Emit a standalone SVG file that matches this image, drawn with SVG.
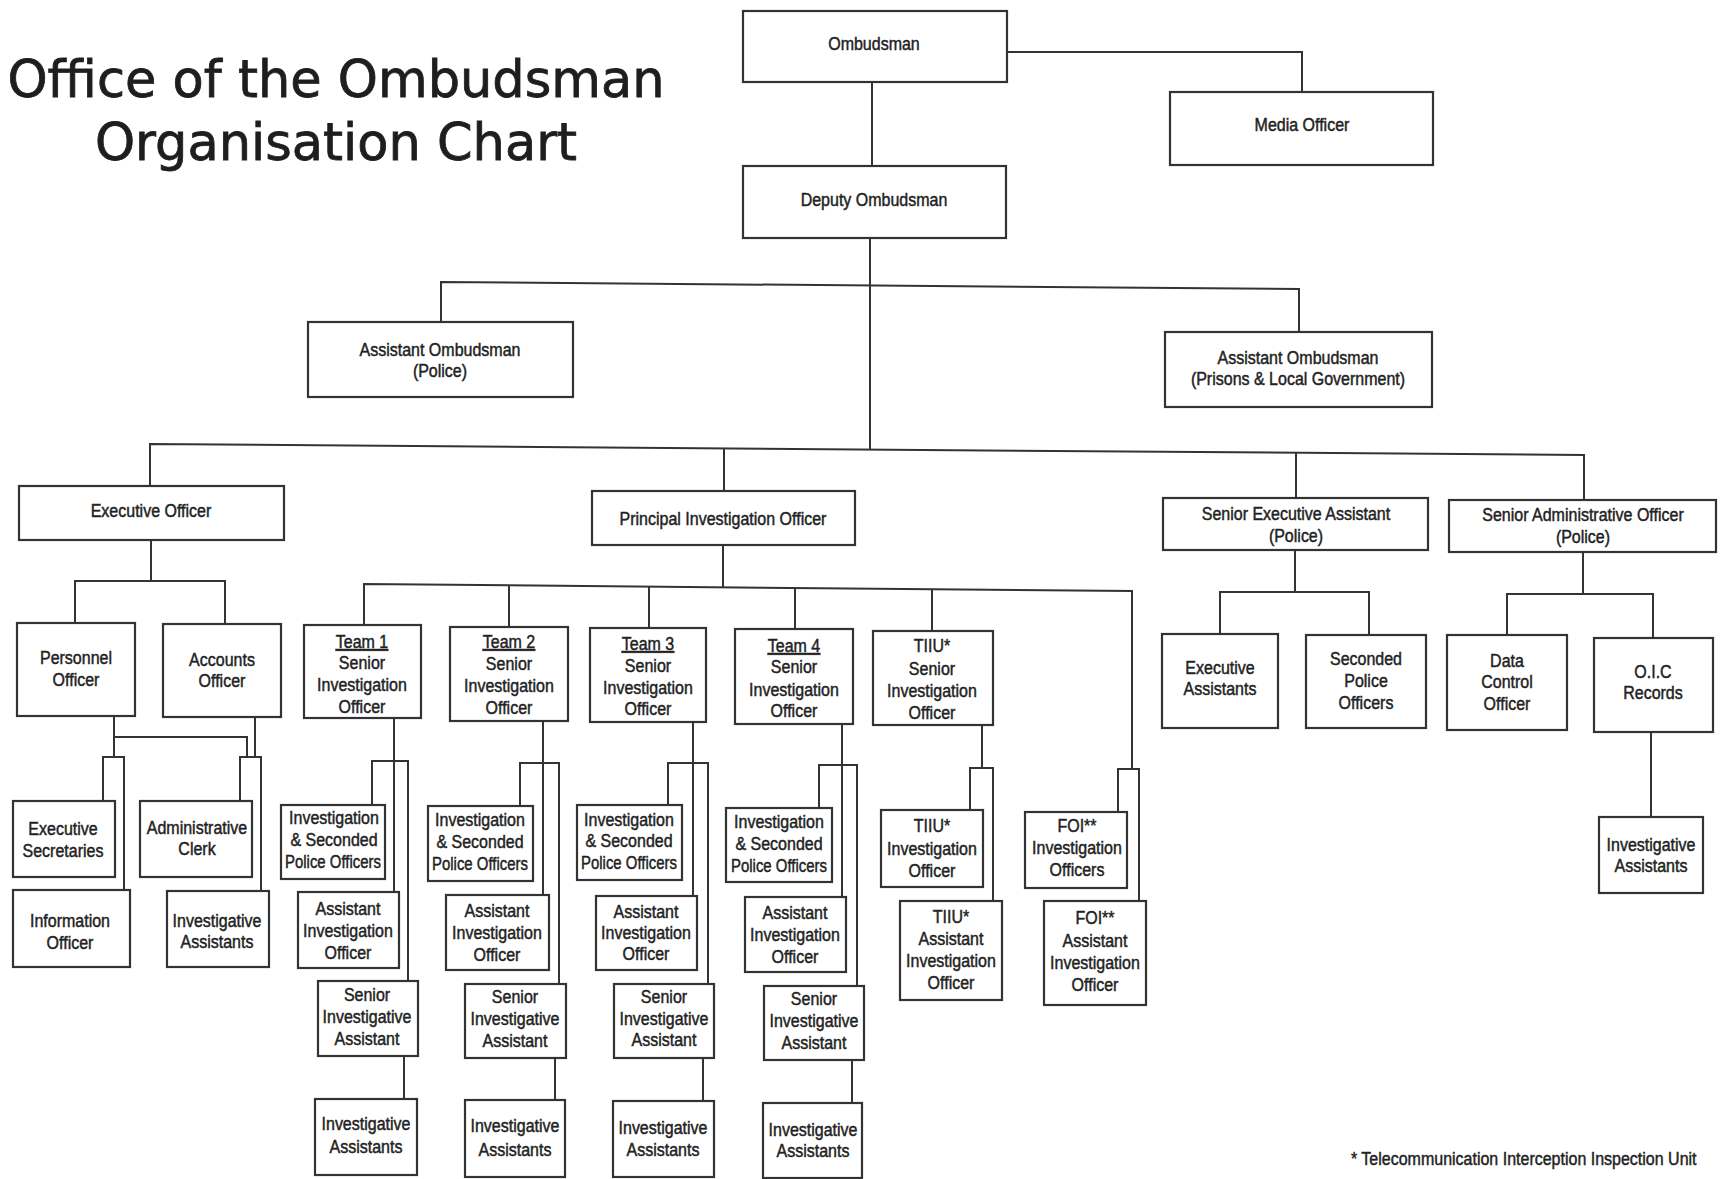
<svg xmlns="http://www.w3.org/2000/svg" width="1720" height="1179" viewBox="0 0 1720 1179">
<style>
.bg{fill:#fff}
.box{fill:#fff;stroke:#333;stroke-width:2.2}
.c{fill:none;stroke:#333;stroke-width:2}
.t{font-family:'Liberation Sans',Arial,sans-serif;font-size:16px;text-anchor:middle;fill:#222;stroke:#222;stroke-width:0.4;transform:scaleY(1.17);transform-box:fill-box;transform-origin:center}
.u{text-decoration:underline}
.title{font-family:'DejaVu Sans','Liberation Sans',sans-serif;font-size:51px;text-anchor:middle;fill:#1e1e1e;stroke:#1e1e1e;stroke-width:0.8}
.fn{font-family:'Liberation Sans',Arial,sans-serif;font-size:16px;fill:#222;stroke:#222;stroke-width:0.4;transform:scaleY(1.17);transform-box:fill-box;transform-origin:center}
</style>
<rect class="bg" x="0" y="0" width="1720" height="1179"/>
<g id="title">
<text class="title" x="336" y="97">Office of the Ombudsman</text>
<text class="title" x="336" y="160">Organisation Chart</text>
</g>
<g id="connectors">
<path class="c" d="M1007,52 H1302 V92"/>
<path class="c" d="M872,82 V166"/>
<path class="c" d="M870,238 V449"/>
<path class="c" d="M441,322 V282 L1299,289 V332"/>
<path class="c" d="M150,486 V444 L1584,455 V500"/>
<path class="c" d="M724,448 V491"/>
<path class="c" d="M1296,453 V498"/>
<path class="c" d="M151,540 V581"/>
<path class="c" d="M75,623 V581 H225 V624"/>
<path class="c" d="M114,716 V757"/>
<path class="c" d="M114,737 H247 V757"/>
<path class="c" d="M255,717 V757"/>
<path class="c" d="M103,801 V757 H124 V890"/>
<path class="c" d="M240,801 V757 H261 V891"/>
<path class="c" d="M723,545 V587"/>
<path class="c" d="M364,625 V584 L1132,591 V769"/>
<path class="c" d="M509,585 V627"/>
<path class="c" d="M649,587 V628"/>
<path class="c" d="M795,588 V629"/>
<path class="c" d="M932,590 V631"/>
<path class="c" d="M394,718 V892"/>
<path class="c" d="M372,805 V761 H408 V981"/>
<path class="c" d="M404,1056 V1099"/>
<path class="c" d="M543,721 V895"/>
<path class="c" d="M520,806 V763 H559 V984"/>
<path class="c" d="M555,1058 V1100"/>
<path class="c" d="M693,722 V896"/>
<path class="c" d="M668,805 V763 H708 V984"/>
<path class="c" d="M703,1058 V1101"/>
<path class="c" d="M842,724 V897"/>
<path class="c" d="M819,808 V765 H857 V986"/>
<path class="c" d="M852,1060 V1103"/>
<path class="c" d="M982,725 V768"/>
<path class="c" d="M970,810 V768 H993 V901"/>
<path class="c" d="M1118,812 V769 H1139 V901"/>
<path class="c" d="M1295,550 V592"/>
<path class="c" d="M1220,634 V592 H1369 V635"/>
<path class="c" d="M1583,552 V594"/>
<path class="c" d="M1507,635 V594 H1653 V638"/>
<path class="c" d="M1651,732 V817"/>
</g>
<g id="ombudsman"><rect class="box" x="743" y="11" width="264" height="71"/><text class="t" x="874" y="49">Ombudsman</text></g>
<g id="media"><rect class="box" x="1170" y="92" width="263" height="73"/><text class="t" x="1302" y="130">Media Officer</text></g>
<g id="deputy"><rect class="box" x="743" y="166" width="263" height="72"/><text class="t" x="874" y="205">Deputy Ombudsman</text></g>
<g id="ao_police"><rect class="box" x="308" y="322" width="265" height="75"/><text class="t" x="440" y="355">Assistant Ombudsman</text><text class="t" x="440" y="376">(Police)</text></g>
<g id="ao_prisons"><rect class="box" x="1165" y="332" width="267" height="75"/><text class="t" x="1298" y="363">Assistant Ombudsman</text><text class="t" x="1298" y="384">(Prisons &amp; Local Government)</text></g>
<g id="exec_officer"><rect class="box" x="19" y="486" width="265" height="54"/><text class="t" x="151" y="516">Executive Officer</text></g>
<g id="pio"><rect class="box" x="592" y="491" width="263" height="54"/><text class="t" x="723" y="524">Principal Investigation Officer</text></g>
<g id="sea"><rect class="box" x="1163" y="498" width="265" height="52"/><text class="t" x="1296" y="519">Senior Executive Assistant</text><text class="t" x="1296" y="541">(Police)</text></g>
<g id="sao"><rect class="box" x="1449" y="500" width="267" height="52"/><text class="t" x="1583" y="520">Senior Administrative Officer</text><text class="t" x="1583" y="542">(Police)</text></g>
<g id="personnel"><rect class="box" x="17" y="623" width="118" height="93"/><text class="t" x="76" y="663">Personnel</text><text class="t" x="76" y="685">Officer</text></g>
<g id="accounts"><rect class="box" x="163" y="624" width="118" height="93"/><text class="t" x="222" y="665">Accounts</text><text class="t" x="222" y="686">Officer</text></g>
<g id="exec_secretaries"><rect class="box" x="13" y="801" width="102" height="76"/><text class="t" x="63" y="834">Executive</text><text class="t" x="63" y="856">Secretaries</text></g>
<g id="admin_clerk"><rect class="box" x="140" y="801" width="112" height="76"/><text class="t" x="197" y="833">Administrative</text><text class="t" x="197" y="854">Clerk</text></g>
<g id="info_officer"><rect class="box" x="13" y="890" width="117" height="77"/><text class="t" x="70" y="926">Information</text><text class="t" x="70" y="948">Officer</text></g>
<g id="eo_inv_assistants"><rect class="box" x="167" y="891" width="102" height="76"/><text class="t" x="217" y="926">Investigative</text><text class="t" x="217" y="947">Assistants</text></g>
<g id="team1"><rect class="box" x="304" y="625" width="117" height="93"/><text class="t u" x="362" y="647">Team 1</text><text class="t" x="362" y="668">Senior</text><text class="t" x="362" y="690">Investigation</text><text class="t" x="362" y="712">Officer</text></g>
<g id="t1_inv_sec"><rect class="box" x="281" y="805" width="104" height="74"/><text class="t" x="334" y="823">Investigation</text><text class="t" x="334" y="845">&amp; Seconded</text><text class="t" x="333" y="867" textLength="96" lengthAdjust="spacingAndGlyphs">Police Officers</text></g>
<g id="t1_aio"><rect class="box" x="298" y="892" width="101" height="76"/><text class="t" x="348" y="914">Assistant</text><text class="t" x="348" y="936">Investigation</text><text class="t" x="348" y="958">Officer</text></g>
<g id="t1_sia"><rect class="box" x="318" y="981" width="100" height="75"/><text class="t" x="367" y="1000">Senior</text><text class="t" x="367" y="1022">Investigative</text><text class="t" x="367" y="1044">Assistant</text></g>
<g id="t1_ia"><rect class="box" x="315" y="1099" width="102" height="76"/><text class="t" x="366" y="1129">Investigative</text><text class="t" x="366" y="1152">Assistants</text></g>
<g id="team2"><rect class="box" x="450" y="627" width="118" height="94"/><text class="t u" x="509" y="647">Team 2</text><text class="t" x="509" y="669">Senior</text><text class="t" x="509" y="691">Investigation</text><text class="t" x="509" y="713">Officer</text></g>
<g id="t2_inv_sec"><rect class="box" x="428" y="806" width="105" height="75"/><text class="t" x="480" y="825">Investigation</text><text class="t" x="480" y="847">&amp; Seconded</text><text class="t" x="480" y="869" textLength="96" lengthAdjust="spacingAndGlyphs">Police Officers</text></g>
<g id="t2_aio"><rect class="box" x="446" y="895" width="103" height="75"/><text class="t" x="497" y="916">Assistant</text><text class="t" x="497" y="938">Investigation</text><text class="t" x="497" y="960">Officer</text></g>
<g id="t2_sia"><rect class="box" x="465" y="984" width="101" height="74"/><text class="t" x="515" y="1002">Senior</text><text class="t" x="515" y="1024">Investigative</text><text class="t" x="515" y="1046">Assistant</text></g>
<g id="t2_ia"><rect class="box" x="465" y="1100" width="100" height="77"/><text class="t" x="515" y="1131">Investigative</text><text class="t" x="515" y="1155">Assistants</text></g>
<g id="team3"><rect class="box" x="590" y="628" width="116" height="94"/><text class="t u" x="648" y="649">Team 3</text><text class="t" x="648" y="671">Senior</text><text class="t" x="648" y="693">Investigation</text><text class="t" x="648" y="714">Officer</text></g>
<g id="t3_inv_sec"><rect class="box" x="577" y="805" width="105" height="75"/><text class="t" x="629" y="825">Investigation</text><text class="t" x="629" y="846">&amp; Seconded</text><text class="t" x="629" y="868" textLength="96" lengthAdjust="spacingAndGlyphs">Police Officers</text></g>
<g id="t3_aio"><rect class="box" x="596" y="896" width="101" height="74"/><text class="t" x="646" y="917">Assistant</text><text class="t" x="646" y="938">Investigation</text><text class="t" x="646" y="959">Officer</text></g>
<g id="t3_sia"><rect class="box" x="614" y="984" width="100" height="74"/><text class="t" x="664" y="1002">Senior</text><text class="t" x="664" y="1024">Investigative</text><text class="t" x="664" y="1045">Assistant</text></g>
<g id="t3_ia"><rect class="box" x="613" y="1101" width="101" height="76"/><text class="t" x="663" y="1133">Investigative</text><text class="t" x="663" y="1155">Assistants</text></g>
<g id="team4"><rect class="box" x="735" y="629" width="118" height="95"/><text class="t u" x="794" y="651">Team 4</text><text class="t" x="794" y="672">Senior</text><text class="t" x="794" y="695">Investigation</text><text class="t" x="794" y="716">Officer</text></g>
<g id="t4_inv_sec"><rect class="box" x="726" y="808" width="106" height="74"/><text class="t" x="779" y="827">Investigation</text><text class="t" x="779" y="849">&amp; Seconded</text><text class="t" x="779" y="871" textLength="96" lengthAdjust="spacingAndGlyphs">Police Officers</text></g>
<g id="t4_aio"><rect class="box" x="745" y="897" width="101" height="75"/><text class="t" x="795" y="918">Assistant</text><text class="t" x="795" y="940">Investigation</text><text class="t" x="795" y="962">Officer</text></g>
<g id="t4_sia"><rect class="box" x="764" y="986" width="100" height="74"/><text class="t" x="814" y="1004">Senior</text><text class="t" x="814" y="1026">Investigative</text><text class="t" x="814" y="1048">Assistant</text></g>
<g id="t4_ia"><rect class="box" x="763" y="1103" width="99" height="75"/><text class="t" x="813" y="1135">Investigative</text><text class="t" x="813" y="1156">Assistants</text></g>
<g id="tiiu_sio"><rect class="box" x="873" y="631" width="120" height="94"/><text class="t" x="932" y="651">TIIU*</text><text class="t" x="932" y="674">Senior</text><text class="t" x="932" y="696">Investigation</text><text class="t" x="932" y="718">Officer</text></g>
<g id="tiiu_io"><rect class="box" x="881" y="810" width="102" height="77"/><text class="t" x="932" y="831">TIIU*</text><text class="t" x="932" y="854">Investigation</text><text class="t" x="932" y="876">Officer</text></g>
<g id="tiiu_aio"><rect class="box" x="900" y="901" width="102" height="99"/><text class="t" x="951" y="922">TIIU*</text><text class="t" x="951" y="944">Assistant</text><text class="t" x="951" y="966">Investigation</text><text class="t" x="951" y="988">Officer</text></g>
<g id="foi_io"><rect class="box" x="1025" y="812" width="102" height="76"/><text class="t" x="1077" y="831">FOI**</text><text class="t" x="1077" y="853">Investigation</text><text class="t" x="1077" y="875">Officers</text></g>
<g id="foi_aio"><rect class="box" x="1044" y="901" width="102" height="104"/><text class="t" x="1095" y="923">FOI**</text><text class="t" x="1095" y="946">Assistant</text><text class="t" x="1095" y="968">Investigation</text><text class="t" x="1095" y="990">Officer</text></g>
<g id="exec_assistants"><rect class="box" x="1162" y="634" width="116" height="94"/><text class="t" x="1220" y="673">Executive</text><text class="t" x="1220" y="694">Assistants</text></g>
<g id="seconded_police"><rect class="box" x="1306" y="635" width="120" height="93"/><text class="t" x="1366" y="664">Seconded</text><text class="t" x="1366" y="686">Police</text><text class="t" x="1366" y="708">Officers</text></g>
<g id="data_control"><rect class="box" x="1447" y="635" width="120" height="95"/><text class="t" x="1507" y="666">Data</text><text class="t" x="1507" y="687">Control</text><text class="t" x="1507" y="709">Officer</text></g>
<g id="oic_records"><rect class="box" x="1594" y="638" width="119" height="94"/><text class="t" x="1653" y="677">O.I.C</text><text class="t" x="1653" y="698">Records</text></g>
<g id="sao_ia"><rect class="box" x="1599" y="817" width="104" height="76"/><text class="t" x="1651" y="850">Investigative</text><text class="t" x="1651" y="871">Assistants</text></g>
<g id="footnote"><text class="fn" x="1351" y="1164">* Telecommunication Interception Inspection Unit</text></g>
</svg>
